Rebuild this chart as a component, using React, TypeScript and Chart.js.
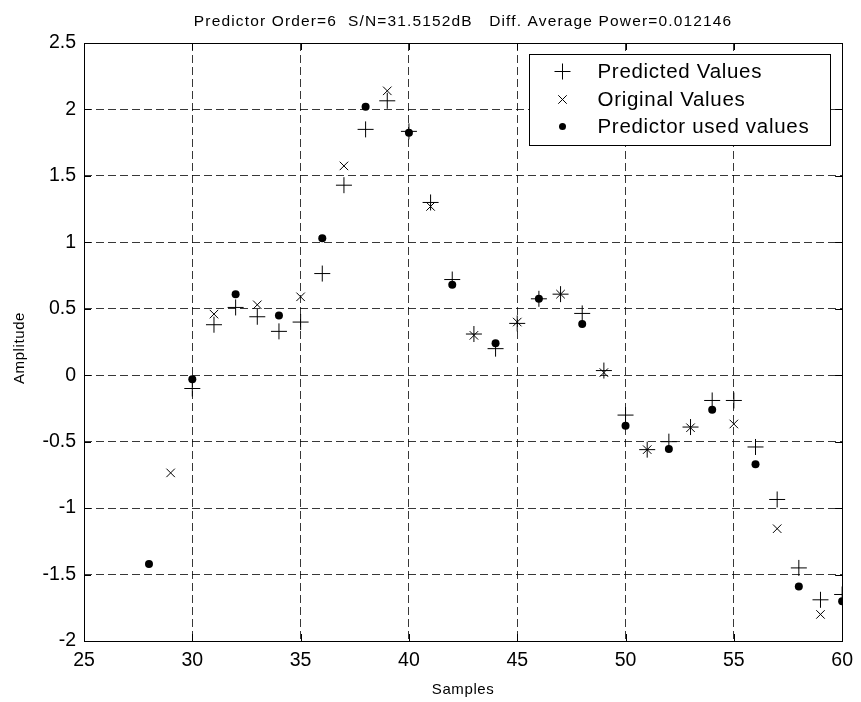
import React, { useEffect, useRef } from "react";
import { Chart, registerables } from "chart.js";

Chart.register(...registerables);

const titleText = "Predictor Order=6  S/N=31.5152dB   Diff. Average Power=0.012146";
const xLabel = "Samples";
const yLabel = "Amplitude";

const xTicks = [25, 30, 35, 40, 45, 50, 55, 60];
const yTicks = [-2, -1.5, -1, -0.5, 0, 0.5, 1, 1.5, 2, 2.5];

const predictedSamples = [30, 31, 32, 33, 34, 35, 36, 37, 38, 39, 40, 41, 42, 43, 44, 45, 46, 47, 48, 49, 50, 51, 52, 53, 54, 55, 56, 57, 58, 59, 60];
const predictedValues = [-0.10, 0.38, 0.51, 0.44, 0.33, 0.40, 0.765, 1.43, 1.85, 2.065, 1.835, 1.30, 0.72, 0.31, 0.20, 0.39, 0.575, 0.61, 0.465, 0.035, -0.30, -0.56, -0.50, -0.39, -0.19, -0.19, -0.54, -0.935, -1.45, -1.69, -1.65];

const originalSamples = [29, 31, 33, 35, 37, 39, 41, 43, 45, 47, 49, 51, 53, 55, 57, 59];
const originalValues = [-0.735, 0.46, 0.53, 0.59, 1.575, 2.14, 1.27, 0.30, 0.40, 0.61, 0.02, -0.56, -0.395, -0.367, -1.155, -1.80];

const usedSamples = [28, 30, 32, 34, 36, 38, 40, 42, 44, 46, 48, 50, 52, 54, 56, 58, 60];
const usedValues = [-1.42, -0.03, 0.61, 0.45, 1.03, 2.02, 1.825, 0.68, 0.24, 0.575, 0.385, -0.38, -0.555, -0.26, -0.67, -1.59, -1.70];

const FONT = '"Liberation Sans", Arial, Helvetica, sans-serif';

const toPoints = (xs: number[], ys: number[]) => xs.map((x, i) => ({ x, y: ys[i] }));

const framePlugin = {
  id: "matlabFrame",
  afterDatasetsDraw(chart: any) {
    const { ctx, chartArea } = chart;
    const { left, right, top, bottom } = chartArea;
    const xs = chart.scales.x;
    const ys = chart.scales.y;
    ctx.save();
    ctx.strokeStyle = "#000";
    ctx.lineWidth = 1;
    ctx.setLineDash([]);
    ctx.beginPath();
    const tl = 7;
    xs.ticks.forEach((t: any) => {
      const px = Math.round(xs.getPixelForValue(t.value)) + 0.5;
      ctx.moveTo(px, bottom);
      ctx.lineTo(px, bottom - tl);
      ctx.moveTo(px, top);
      ctx.lineTo(px, top + tl);
    });
    ys.ticks.forEach((t: any) => {
      const py = Math.round(ys.getPixelForValue(t.value)) + 0.5;
      ctx.moveTo(left, py);
      ctx.lineTo(left + tl, py);
      ctx.moveTo(right, py);
      ctx.lineTo(right - tl, py);
    });
    ctx.stroke();
    ctx.strokeRect(Math.round(left) + 0.5, Math.round(top) + 0.5, Math.round(right - left), Math.round(bottom - top));

    // legend
    const bw = 301;
    const bh = 91;
    const bx = Math.round(right - 12 - bw) + 0.5;
    const by = Math.round(top + 11) + 0.5;
    ctx.fillStyle = "#fff";
    ctx.fillRect(bx, by, bw, bh);
    ctx.strokeRect(bx, by, bw, bh);
    const rowY = [17, 45, 72];
    ctx.font = `20.5px ${FONT}`;
    (ctx as any).letterSpacing = "0.7px";
    ctx.textBaseline = "middle";
    ctx.textAlign = "left";
    chart.data.datasets.forEach((ds: any, i: number) => {
      const cy = by + rowY[i];
      const cx = bx + 33;
      ctx.strokeStyle = "#000";
      ctx.fillStyle = "#000";
      ctx.lineWidth = 1;
      ctx.beginPath();
      if (ds.pointStyle === "cross") {
        const r = ds.pointRadius;
        ctx.moveTo(cx - r, cy);
        ctx.lineTo(cx + r, cy);
        ctx.moveTo(cx, cy - r);
        ctx.lineTo(cx, cy + r);
        ctx.stroke();
      } else if (ds.pointStyle === "crossRot") {
        const r = ds.pointRadius * Math.SQRT1_2;
        ctx.moveTo(cx - r, cy - r);
        ctx.lineTo(cx + r, cy + r);
        ctx.moveTo(cx - r, cy + r);
        ctx.lineTo(cx + r, cy - r);
        ctx.stroke();
      } else {
        ctx.arc(cx, cy, 3.5, 0, Math.PI * 2);
        ctx.fill();
      }
      ctx.fillStyle = "#000";
      ctx.fillText(ds.label, bx + 68, cy + 1);
    });

    // texts
    ctx.fillStyle = "#000";
    ctx.textAlign = "center";
    ctx.textBaseline = "alphabetic";
    ctx.font = `15.5px ${FONT}`;
    (ctx as any).letterSpacing = "1.15px";
    ctx.fillText(titleText, (left + right) / 2, 26);
    ctx.font = `15px ${FONT}`;
    (ctx as any).letterSpacing = "0.6px";
    ctx.fillText(xLabel, (left + right) / 2, 694);
    ctx.save();
    ctx.translate(24, (top + bottom) / 2 + 6);
    ctx.rotate(-Math.PI / 2);
    ctx.fillText(yLabel, 0, 0);
    ctx.restore();
    (ctx as any).letterSpacing = "0px";
    ctx.restore();
  },
};

export default function App() {
  const ref = useRef<HTMLCanvasElement | null>(null);
  useEffect(() => {
    if (!ref.current) return;
    const gridColor = "rgba(0,0,0,0.78)";
    const chart = new Chart(ref.current, {
      type: "scatter",
      data: {
        datasets: [
          {
            label: "Predicted Values",
            data: toPoints(predictedSamples, predictedValues),
            pointStyle: "cross",
            pointRadius: 8,
            borderColor: "#000",
            backgroundColor: "#000",
            borderWidth: 1,
            order: 2,
          },
          {
            label: "Original Values",
            data: toPoints(originalSamples, originalValues),
            pointStyle: "crossRot",
            pointRadius: 6,
            borderColor: "#000",
            backgroundColor: "#000",
            borderWidth: 1,
            order: 1,
          },
          {
            label: "Predictor used values",
            data: toPoints(usedSamples, usedValues),
            pointStyle: "circle",
            pointRadius: 4,
            borderColor: "#000",
            backgroundColor: "#000",
            borderWidth: 0,
            order: 0,
          },
        ] as any,
      },
      options: {
        animation: false,
        responsive: false,
        devicePixelRatio: 1,
        layout: { padding: { top: 43, right: 18, left: 0, bottom: 0 } },
        plugins: {
          legend: { display: false },
          tooltip: { enabled: false },
          title: { display: false },
        },
        scales: {
          x: {
            type: "linear",
            min: 25,
            max: 60,
            afterBuildTicks: (s: any) => {
              s.ticks = xTicks.map((v) => ({ value: v }));
            },
            afterFit: (s: any) => {
              s.height = 61;
            },
            ticks: {
              color: "#000",
              font: { family: FONT, size: 19.5 },
              padding: 8,
              maxRotation: 0,
              callback: (v: any) => String(v),
            },
            grid: { color: gridColor, lineWidth: 1, drawTicks: false },
            border: { display: false, dash: [8, 4] },
          },
          y: {
            type: "linear",
            min: -2,
            max: 2.5,
            afterBuildTicks: (s: any) => {
              s.ticks = yTicks.map((v) => ({ value: v }));
            },
            afterFit: (s: any) => {
              s.width = 84;
            },
            ticks: {
              color: "#000",
              font: { family: FONT, size: 19.5 },
              padding: 8,
              callback: (v: any) => String(v),
            },
            grid: { color: gridColor, lineWidth: 1, drawTicks: false },
            border: { display: false, dash: [8, 4] },
          },
        },
      },
      plugins: [framePlugin],
    } as any);
    return () => chart.destroy();
  }, []);
  return (
    <div style={{ position: "fixed", left: 0, top: 0, width: 861, height: 702, background: "#fff" }}>
      <canvas ref={ref} width={861} height={702} style={{ width: 861, height: 702, display: "block" }} />
    </div>
  );
}
